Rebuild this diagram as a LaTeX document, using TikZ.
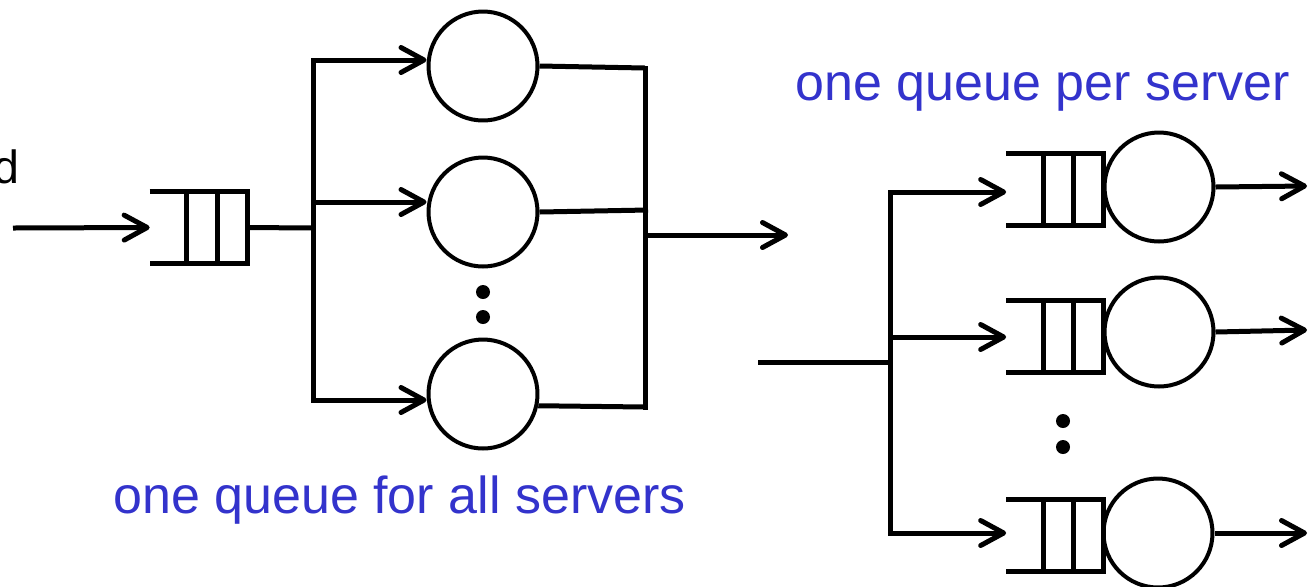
\documentclass[tikz,border=0pt]{standalone}
\usepackage{fontspec}
\setmainfont{Liberation Sans}
\usetikzlibrary{arrows.meta,calc}
\definecolor{lblue}{RGB}{51,51,204}
\tikzset{
  wire/.style={line width=0.1cm},
  arr/.style={line width=0.1cm,-{Straight Barb[length=0.46cm,width=0.5cm,round]}},
  server/.style={circle,draw,line width=0.08cm,minimum size=2.18cm,inner sep=0pt},
  queue/.style={rectangle,minimum width=1.94cm,minimum height=1.42cm,inner sep=0pt},
  blob/.style={circle,fill,minimum size=0.28cm,inner sep=0pt},
  caption/.style={text=lblue,font=\fontsize{29.6}{34}\selectfont,inner sep=0pt},
}
\newcommand\queuelines[1]{%
  \draw[wire] (#1.north west) -- (#1.north east) -- (#1.south east) -- (#1.south west);
  \draw[wire] ($(#1.north west)!0.38!(#1.north east)$) -- ($(#1.south west)!0.38!(#1.south east)$);
  \draw[wire] ($(#1.north west)!0.69!(#1.north east)$) -- ($(#1.south west)!0.69!(#1.south east)$);}
\begin{document}
\begin{tikzpicture}[x=0.02cm,y=-0.02cm]
\useasboundingbox (0,0) rectangle (1312,586);
% ---------- left: one queue for all servers ----------
\node[font=\fontsize{26.5}{31}\selectfont,anchor=base east,inner sep=0pt] (dtxt) at (20,183) {d};
\node[queue] (q0) at (198.5,227.5) {};
\queuelines{q0}
\coordinate (in0) at (13,228);
\draw[arr] (in0) -- (q0.west);
\node[server] (s1) at (483,66) {};
\node[server] (s2) at (483,212) {};
\node[server] (s3) at (483,394) {};
\coordinate (j0) at (313,228);
\coordinate (b1) at (313,60);
\coordinate (b2) at (313,202);
\coordinate (b3) at (313,400);
\draw[wire] (q0.east) -- (j0);
\draw[wire,line cap=rect] (b1) -- (b3);
\draw[arr] (b1) -- (b1 -| s1.west);
\draw[arr] (b2) -- (b2 -| s2.west);
\draw[arr] (b3) -- (b3 -| s3.west);
\coordinate (c1) at (645,68);
\coordinate (c2) at (648,210);
\coordinate (c3) at (645,407);
\draw[wire] (s1.east) -- (c1);
\draw[wire] (s2.east) -- (c2);
\draw[wire] (s3.-12) -- (c3);
\draw[wire,line cap=rect] (c1) -- (c3);
\coordinate (o0a) at (645,235);
\coordinate (o0b) at (788,235);
\draw[arr] (o0a) -- (o0b);
\node[blob] (dl1) at (483,292) {};
\node[blob] (dl2) at (483,317) {};
\node[caption,anchor=base west] (cap0) at (113,513) {one queue for all servers};
% ---------- right: one queue per server ----------
\node[caption,anchor=base west] (cap1) at (795,100) {one queue per server};
\coordinate (in1) at (758,362);
\coordinate (j1) at (890,362);
\coordinate (r1) at (890,192);
\coordinate (r2) at (890,337);
\coordinate (r3) at (890,533);
\draw[wire] (in1) -- (j1);
\draw[wire,line cap=rect] (r1) -- (r3);
\node[queue] (q1) at (1055,189.5) {};
\node[queue] (q2) at (1055,336.5) {};
\node[queue] (q3) at (1055,535.5) {};
\queuelines{q1}
\queuelines{q2}
\queuelines{q3}
\node[server] (t1) at (1159,187) {};
\node[server] (t2) at (1159,332) {};
\node[server] (t3) at (1158,533) {};
\draw[arr] (r1) -- (r1 -| q1.west);
\draw[arr] (r2) -- (r2 -| q2.west);
\draw[arr] (r3) -- (r3 -| q3.west);
\coordinate (e1) at (1307,186);
\coordinate (e2) at (1307,330);
\coordinate (e3) at (1307,533);
\draw[arr] (t1.east) -- (e1);
\draw[arr] (t2.east) -- (e2);
\draw[arr] (t3.east) -- (e3);
\node[blob] (dr1) at (1063,421) {};
\node[blob] (dr2) at (1063,447) {};
\end{tikzpicture}
\end{document}
